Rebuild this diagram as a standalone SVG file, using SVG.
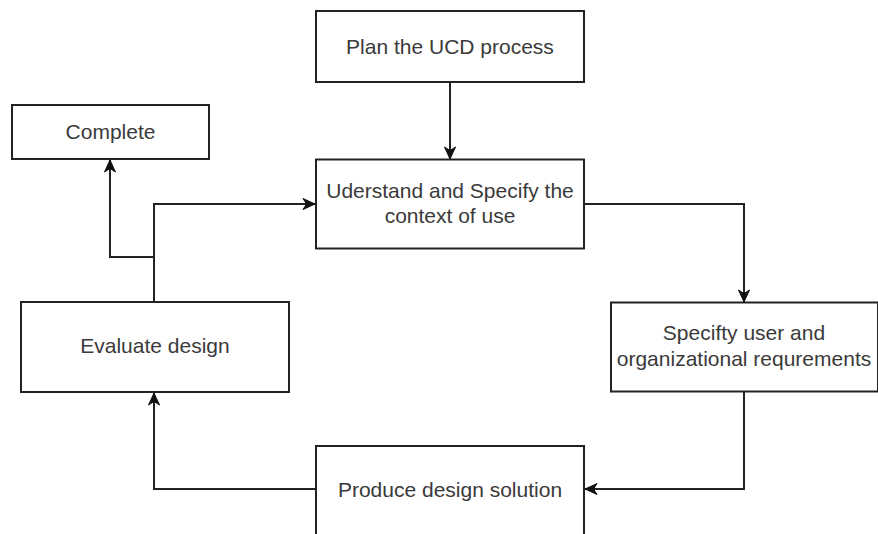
<svg xmlns="http://www.w3.org/2000/svg" width="878" height="534" viewBox="0 0 878 534">
<style>
.box{fill:#fff;stroke:#222;stroke-width:2}
.lbl{font-family:"Liberation Sans",Arial,sans-serif;font-size:21px;fill:#3a3a3a;text-anchor:middle}
.edge{fill:none;stroke:#222;stroke-width:2;marker-end:url(#arr)}
</style>
<defs>
<marker id="arr" markerUnits="userSpaceOnUse" markerWidth="14" markerHeight="14" viewBox="0 0 14 14" refX="13" refY="7" orient="auto">
<path d="M1,1.5 L13,7 L1,12.5 L4.5,7 z" fill="#111" stroke="#111" stroke-width="1"/>
</marker>
</defs>
<rect width="878" height="534" fill="#fff"/>
<g id="connectors">
<path class="edge" d="M450,82 V159"/>
<path class="edge" d="M584,204 H744 V302"/>
<path class="edge" d="M744,392 V489 H585"/>
<path class="edge" d="M316,489 H154 V393"/>
<path class="edge" d="M154,302 V204 H315"/>
<path class="edge" d="M154,257 H110 V160"/>
</g>
<g id="plan">
<rect class="box" x="316" y="11" width="268" height="71"/>
<text class="lbl" x="450" y="53.5">Plan the UCD process</text>
</g>
<g id="understand">
<rect class="box" x="316" y="159.5" width="268" height="89"/>
<text class="lbl" x="450" y="197.5">Uderstand and Specify the</text>
<text class="lbl" x="450" y="222.5">context of use</text>
</g>
<g id="complete">
<rect class="box" x="12" y="105" width="197" height="54"/>
<text class="lbl" x="110.5" y="138.5">Complete</text>
</g>
<g id="specify">
<rect class="box" x="611" y="302.5" width="267" height="89"/>
<text class="lbl" x="744" y="340">Specifty user and</text>
<text class="lbl" x="744" y="365.5">organizational requrements</text>
</g>
<g id="evaluate">
<rect class="box" x="21" y="302" width="268" height="90"/>
<text class="lbl" x="155" y="352.5">Evaluate design</text>
</g>
<g id="produce">
<rect class="box" x="316" y="446" width="268" height="92"/>
<text class="lbl" x="450" y="496.5">Produce design solution</text>
</g>
</svg>
